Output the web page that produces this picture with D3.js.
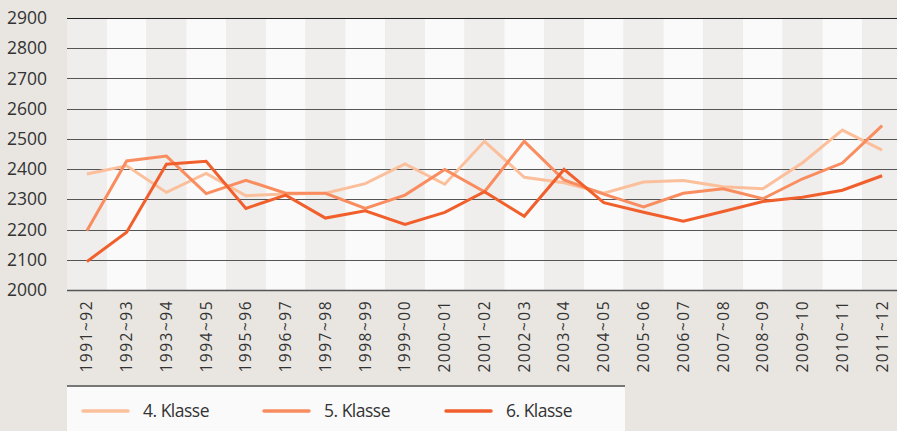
<!DOCTYPE html>
<html>
<head>
<meta charset="utf-8">
<script src="https://cdn.jsdelivr.net/npm/d3@7"></script>
<style>
  html, body { margin: 0; padding: 0; background: #e9e6e1; overflow: hidden; }
  svg { display: block; }
  text { font-family: "Open Sans", sans-serif; fill: #333; }
</style>
</head>
<body>
<svg id="chart"></svg>
<script>
// school years on the x axis
const years = ["1991~92","1992~93","1993~94","1994~95","1995~96","1996~97","1997~98",
  "1998~99","1999~00","2000~01","2001~02","2002~03","2003~04","2004~05","2005~06",
  "2006~07","2007~08","2008~09","2009~10","2010~11","2011~12"];

const klasse4 = [2384,2411,2323,2386,2312,2318,2320,2352,2417,2350,2492,2373,2355,2320,2357,2362,2342,2335,2421,2529,2463];
const klasse5 = [2196,2427,2443,2319,2363,2320,2320,2270,2314,2399,2325,2492,2364,2317,2275,2320,2335,2302,2368,2420,2544];
const klasse6 = [2094,2191,2416,2426,2270,2314,2238,2262,2217,2257,2325,2244,2399,2289,2257,2228,2260,2293,2307,2330,2378];

const yTicks = [2000,2100,2200,2300,2400,2500,2600,2700,2800,2900];

const seriesNames = ["4. Klasse","5. Klasse","6. Klasse"];
const seriesColors = ["#fcbf9b","#f98d5f","#f1602c"];

const width = 897, height = 431;
const plotLeft = 67, plotRight = 902, plotTop = 18, plotBottom = 290;

const svg = d3.select("#chart").attr("width", width).attr("height", height);

const x = d3.scaleBand().domain(years).range([plotLeft, plotRight]).padding(0);
const y = d3.scaleLinear().domain([2000, 2900]).range([plotBottom, plotTop]);

// alternating column shading
svg.append("g").selectAll("rect")
  .data(years)
  .enter().append("rect")
  .attr("x", d => x(d))
  .attr("y", plotTop)
  .attr("width", x.bandwidth())
  .attr("height", plotBottom - plotTop)
  .attr("fill", (d, i) => i % 2 === 0 ? "#efeeec" : "#fafafa");

// horizontal grid
svg.append("g").selectAll("line")
  .data(yTicks)
  .enter().append("line")
  .attr("x1", plotLeft).attr("x2", width)
  .attr("y1", d => Math.round(y(d)) + 0.5)
  .attr("y2", d => Math.round(y(d)) + 0.5)
  .attr("stroke", d => d === 2900 ? "#222" : "#555")
  .attr("stroke-width", d => d === 2000 ? 1.6 : 1.2);

// y axis labels
const yAxis = svg.append("g")
  .attr("transform", "translate(" + (plotLeft - 20) + ",0)")
  .call(d3.axisLeft(y).tickValues(yTicks).tickFormat(d3.format("d")).tickSize(0).tickPadding(0));
yAxis.select(".domain").remove();
yAxis.selectAll("text")
  .attr("font-family", "Open Sans, sans-serif")
  .attr("font-size", 17.5)
  .attr("fill", "#333");

// x axis labels (rotated)
const xAxis = svg.append("g")
  .attr("transform", "translate(0," + plotBottom + ")")
  .call(d3.axisBottom(x).tickSize(0).tickPadding(0));
xAxis.select(".domain").remove();
xAxis.selectAll("text")
  .attr("font-family", "Open Sans, sans-serif")
  .attr("font-size", 15.5)
  .attr("letter-spacing", "1.5px")
  .attr("fill", "#333")
  .attr("text-anchor", "end")
  .attr("dy", "0.35em")
  .attr("transform", "translate(0,10) rotate(-90)")
  .attr("x", 0).attr("y", 0);

// lines
const line = d3.line()
  .x((d, i) => x(years[i]) + x.bandwidth() / 2)
  .y(d => y(d));

[klasse4, klasse5, klasse6].forEach((vals, k) => {
  svg.append("path")
    .datum(vals)
    .attr("fill", "none")
    .attr("stroke", seriesColors[k])
    .attr("stroke-width", 3)
    .attr("stroke-linejoin", "miter")
    .attr("d", line);
});

// legend
const legend = svg.append("g");
legend.append("rect")
  .attr("x", plotLeft).attr("y", 386)
  .attr("width", 625 - plotLeft).attr("height", height - 386)
  .attr("fill", "#fafafa");
legend.append("line")
  .attr("x1", plotLeft).attr("x2", 625)
  .attr("y1", 386).attr("y2", 386)
  .attr("stroke", "#777").attr("stroke-width", 2);

const legendX = [83, 264, 446];
seriesNames.forEach((name, k) => {
  legend.append("line")
    .attr("x1", legendX[k]).attr("x2", legendX[k] + 45)
    .attr("y1", 411).attr("y2", 411)
    .attr("stroke", seriesColors[k])
    .attr("stroke-width", 3.5)
    .attr("stroke-linecap", "round");
  legend.append("text")
    .attr("x", legendX[k] + 60)
    .attr("y", 417)
    .attr("font-size", 17.5)
    .attr("letter-spacing", "-0.5px")
    .attr("fill", "#333")
    .text(name);
});
</script>
</body>
</html>
